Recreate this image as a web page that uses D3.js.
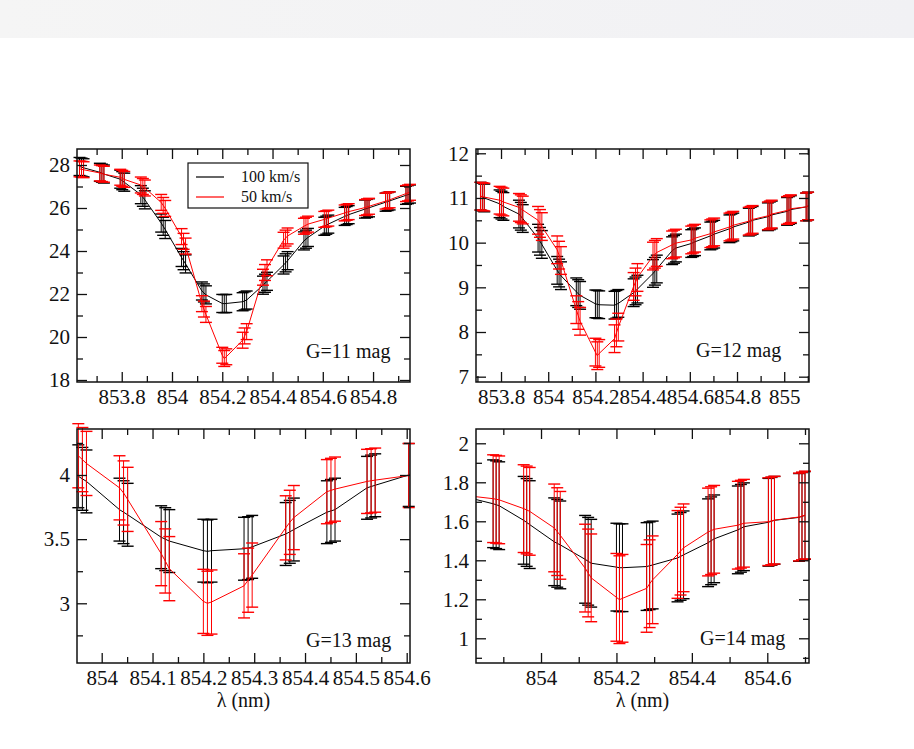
<!DOCTYPE html>
<html>
<head>
<meta charset="utf-8">
<script src="https://cdn.jsdelivr.net/npm/d3@7"></script>
<style>
  html, body { margin: 0; padding: 0; background: #fff; }
  svg { display: block; }
  text { font-family: "Liberation Serif", "Times New Roman", serif; fill: #111; }
</style>
</head>
<body>
<svg id="fig" width="914" height="749"></svg>
<script>
// ---------------------------------------------------------------------------
// Data: Ca II 854.2 nm line profiles, two rotation speeds, four magnitudes.
// Each error-bar cluster holds three neighbouring samples (subStep apart);
// the wavelength arrays give the first sample of every cluster.
// ---------------------------------------------------------------------------
const seriesNames  = ["100 km/s", "50 km/s"];
const seriesColors = ["#000000", "#ff0000"];
const subStep = 0.008; // nm between samples inside one cluster

// G = 11 mag
const wavesG11 = [853.632, 853.713, 853.794, 853.876, 853.957, 854.038, 854.119, 854.200,
                  854.281, 854.362, 854.444, 854.525, 854.606, 854.687, 854.768, 854.850, 854.931];
const fluxG11v100 = [
  [27.93, 27.90, 27.87], [27.66, 27.62, 27.58], [27.34, 27.27, 27.20], [26.62, 26.50, 26.38],
  [25.30, 25.15, 25.00], [23.70, 23.55, 23.40], [22.14, 22.05, 21.96], [21.56, 21.55, 21.56],
  [21.64, 21.68, 21.72], [22.41, 22.50, 22.59], [23.35, 23.45, 23.55], [24.47, 24.55, 24.63],
  [25.15, 25.20, 25.25], [25.61, 25.65, 25.69], [25.95, 25.98, 26.01], [26.27, 26.30, 26.33],
  [26.59, 26.62, 26.65]];
const fluxG11v50 = [
  [27.82, 27.80, 27.78], [27.63, 27.60, 27.57], [27.43, 27.38, 27.33], [27.07, 27.00, 26.93],
  [26.26, 26.12, 25.98], [24.67, 24.45, 24.23], [21.55, 21.30, 21.05], [19.15, 19.00, 19.08],
  [19.85, 20.05, 20.25], [22.78, 23.00, 23.22], [24.50, 24.60, 24.70], [25.15, 25.20, 25.25],
  [25.47, 25.50, 25.53], [25.77, 25.80, 25.83], [26.02, 26.05, 26.08], [26.32, 26.35, 26.38],
  [26.67, 26.70, 26.73]];
const sigmaG11 = [0.42, 0.37];

// G = 12 mag
const wavesG12 = [853.713, 853.794, 853.876, 853.957, 854.038, 854.119, 854.200, 854.281, 854.362,
                  854.444, 854.525, 854.606, 854.687, 854.768, 854.850, 854.931, 855.012, 855.093];
const fluxG12v100 = [
  [11.04, 11.02, 11.00], [10.87, 10.84, 10.81], [10.64, 10.59, 10.54], [10.10, 10.03, 9.96],
  [9.38, 9.32, 9.26], [8.90, 8.86, 8.82], [8.63, 8.62, 8.61], [8.60, 8.62, 8.64],
  [8.88, 8.92, 8.96], [9.31, 9.36, 9.41], [9.82, 9.85, 9.88], [9.98, 10.00, 10.02],
  [10.15, 10.17, 10.19], [10.31, 10.33, 10.35], [10.46, 10.48, 10.50], [10.58, 10.60, 10.62],
  [10.70, 10.72, 10.74], [10.80, 10.82, 10.84]];
const fluxG12v50 = [
  [11.04, 11.03, 11.02], [10.95, 10.93, 10.91], [10.79, 10.76, 10.73], [10.50, 10.43, 10.36],
  [9.84, 9.72, 9.60], [8.50, 8.37, 8.24], [7.55, 7.47, 7.52], [7.85, 7.98, 8.11],
  [9.02, 9.12, 9.22], [9.70, 9.74, 9.78], [9.95, 9.97, 9.99], [10.06, 10.08, 10.10],
  [10.20, 10.22, 10.24], [10.35, 10.37, 10.39], [10.48, 10.50, 10.52], [10.60, 10.62, 10.64],
  [10.72, 10.74, 10.76], [10.80, 10.82, 10.84]];
const sigmaG12 = [0.31, 0.31];

// G = 13 mag
const wavesG13 = [853.954, 854.035, 854.117, 854.200, 854.280, 854.362, 854.443, 854.522, 854.604];
const fluxG13v100 = [
  [3.99, 3.97, 3.95], [3.73, 3.71, 3.69], [3.515, 3.50, 3.485], [3.41, 3.405, 3.41],
  [3.425, 3.43, 3.44], [3.54, 3.557, 3.575], [3.71, 3.72, 3.73], [3.90, 3.91, 3.92],
  [4.00, 4.005, 4.01]];
const fluxG13v50 = [
  [4.15, 4.12, 4.09], [3.90, 3.86, 3.81], [3.387, 3.33, 3.27], [3.015, 3.00, 3.01],
  [3.136, 3.18, 3.22], [3.588, 3.631, 3.668], [3.87, 3.88, 3.89], [3.95, 3.955, 3.96],
  [3.996, 4.00, 4.005]];
const sigmaG13 = [0.245, 0.25];

// G = 14 mag
const wavesG14 = [853.794, 853.873, 853.954, 854.035, 854.117, 854.200, 854.280, 854.362,
                  854.443, 854.522, 854.603, 854.684];
const fluxG14v100 = [
  [1.73, 1.725, 1.72], [1.69, 1.685, 1.68], [1.605, 1.594, 1.583], [1.495, 1.487, 1.479],
  [1.405, 1.395, 1.385], [1.365, 1.362, 1.362], [1.368, 1.372, 1.376], [1.412, 1.42, 1.428],
  [1.49, 1.50, 1.51], [1.556, 1.564, 1.572], [1.595, 1.60, 1.605], [1.62, 1.625, 1.63]];
const fluxG14v50 = [
  [1.735, 1.732, 1.73], [1.716, 1.713, 1.71], [1.665, 1.658, 1.651], [1.566, 1.547, 1.528],
  [1.36, 1.335, 1.31], [1.21, 1.198, 1.205], [1.256, 1.28, 1.30], [1.43, 1.447, 1.464],
  [1.545, 1.552, 1.559], [1.58, 1.585, 1.59], [1.598, 1.602, 1.606], [1.622, 1.627, 1.632]];
const sigmaG14 = [0.225, 0.225];

// Tick labels
const xTicksG11 = [853.8, 854, 854.2, 854.4, 854.6, 854.8];
const xTicksG12 = [853.8, 854, 854.2, 854.4, 854.6, 854.8, 855];
const xTicksG13 = [854, 854.1, 854.2, 854.3, 854.4, 854.5, 854.6];
const xTicksG14 = [854, 854.2, 854.4, 854.6];
const yTicksG11 = [18, 20, 22, 24, 26, 28];
const yTicksG12 = [7, 8, 9, 10, 11, 12];
const yTicksG13 = [3, 3.5, 4];
const yTicksG14 = [1, 1.2, 1.4, 1.6, 1.8, 2];
const panelLabels = ["G=11 mag", "G=12 mag", "G=13 mag", "G=14 mag"];
const xTitle = "\u03bb (nm)";

// ---------------------------------------------------------------------------
// Layout
// ---------------------------------------------------------------------------
const svg = d3.select("#fig");
const defs = svg.append("defs");

// pale strip across the top of the page
const grad = defs.append("linearGradient")
  .attr("id", "topBand").attr("x1", "0%").attr("x2", "100%");
grad.append("stop").attr("offset", "0%").attr("stop-color", "#f5f5f5");
grad.append("stop").attr("offset", "100%").attr("stop-color", "#f1f1f4");
svg.append("rect").attr("x", 0).attr("y", 0).attr("width", 914).attr("height", 38)
  .attr("fill", "url(#topBand)");

const panels = [
  { key: "g11", waves: wavesG11, flux: [fluxG11v100, fluxG11v50], sigma: sigmaG11,
    xDomain: [853.622, 854.947], yDomain: [17.907, 28.744],
    xTicks: xTicksG11, xMinorStep: 0.1, yTicks: yTicksG11, yMinorStep: 1,
    box: { x0: 77, x1: 410, y0: 149, y1: 382 }, label: panelLabels[0], labelAt: [306, 358],
    legend: true, title: false },
  { key: "g12", waves: wavesG12, flux: [fluxG12v100, fluxG12v50], sigma: sigmaG12,
    xDomain: [853.694, 855.105], yDomain: [6.881, 12.096],
    xTicks: xTicksG12, xMinorStep: 0.1, yTicks: yTicksG12, yMinorStep: 0.5,
    box: { x0: 476, x1: 809, y0: 149, y1: 382 }, label: panelLabels[1], labelAt: [696, 357],
    legend: false, title: false },
  { key: "g13", waves: wavesG13, flux: [fluxG13v100, fluxG13v50], sigma: sigmaG13,
    xDomain: [853.9514, 854.6065], yDomain: [2.5346, 4.3585],
    xTicks: xTicksG13, xMinorStep: 0.05, yTicks: yTicksG13, yMinorStep: 0.25,
    box: { x0: 77, x1: 410, y0: 429, y1: 663 }, label: panelLabels[2], labelAt: [306, 647],
    legend: false, title: true },
  { key: "g14", waves: wavesG14, flux: [fluxG14v100, fluxG14v50], sigma: sigmaG14,
    xDomain: [853.8276, 854.7106], yDomain: [0.8733, 2.0733],
    xTicks: xTicksG14, xMinorStep: 0.1, yTicks: yTicksG14, yMinorStep: 0.1,
    box: { x0: 476, x1: 809, y0: 429, y1: 663 }, label: panelLabels[3], labelAt: [700, 645],
    legend: false, title: true }
];

const fmt = d => String(+d.toFixed(3));
const majorLen = 10, minorLen = 6, capHalf = 6;
const fontStack = '"Liberation Serif", "Times New Roman", serif';

function minorValues(domain, step, majors) {
  const lo = Math.ceil(domain[0] / step - 1e-6), hi = Math.floor(domain[1] / step + 1e-6);
  return d3.range(lo, hi + 1).map(k => +(k * step).toFixed(4))
    .filter(v => !majors.some(m => Math.abs(m - v) < 1e-6));
}

function drawPanel(p) {
  const b = p.box;
  const x = d3.scaleLinear().domain(p.xDomain).range([b.x0, b.x1]);
  const y = d3.scaleLinear().domain(p.yDomain).range([b.y1, b.y0]);
  const g = svg.append("g").attr("class", "panel-" + p.key);

  defs.append("clipPath").attr("id", "clip-" + p.key)
    .append("rect").attr("x", b.x0).attr("y", b.y0)
    .attr("width", b.x1 - b.x0).attr("height", b.y1 - b.y0);

  // samples of both series
  const series = p.flux.map((groups, s) => {
    const pts = [];
    groups.forEach((vals, i) => vals.forEach((v, j) => {
      pts.push({ x: p.waves[i] + j * subStep, y: v, s: p.sigma[s] });
    }));
    return pts;
  });

  const lineGen = d3.line().x(d => x(d.x)).y(d => y(d.y));
  const inX = d => d.x >= p.xDomain[0] - 1e-9 && d.x <= p.xDomain[1] + 1e-9;

  series.forEach((pts, s) => {
    const col = seriesColors[s];
    const bars = g.append("g").attr("stroke", col).attr("fill", "none");
    const visible = pts.filter(inX);
    bars.selectAll("line.err").data(visible).join("line").attr("class", "err")
      .attr("x1", d => x(d.x)).attr("x2", d => x(d.x))
      .attr("y1", d => y(d.y - d.s)).attr("y2", d => y(d.y + d.s))
      .attr("stroke-width", 1);
    bars.selectAll("line.capHi").data(visible).join("line").attr("class", "capHi")
      .attr("x1", d => x(d.x) - capHalf).attr("x2", d => x(d.x) + capHalf)
      .attr("y1", d => y(d.y + d.s)).attr("y2", d => y(d.y + d.s))
      .attr("stroke-width", 1.4);
    bars.selectAll("line.capLo").data(visible).join("line").attr("class", "capLo")
      .attr("x1", d => x(d.x) - capHalf).attr("x2", d => x(d.x) + capHalf)
      .attr("y1", d => y(d.y - d.s)).attr("y2", d => y(d.y - d.s))
      .attr("stroke-width", 1.4);
    g.append("path").datum(pts)
      .attr("clip-path", "url(#clip-" + p.key + ")")
      .attr("fill", "none").attr("stroke", col).attr("stroke-width", 1)
      .attr("stroke-linejoin", "round")
      .attr("d", lineGen);
  });

  // frame
  g.append("rect").attr("x", b.x0).attr("y", b.y0)
    .attr("width", b.x1 - b.x0).attr("height", b.y1 - b.y0)
    .attr("fill", "none").attr("stroke", "#111").attr("stroke-width", 1.5);

  // inward ticks on all four sides, labels on bottom and left only
  const xMinor = minorValues(p.xDomain, p.xMinorStep, p.xTicks);
  const yMinor = minorValues(p.yDomain, p.yMinorStep, p.yTicks);
  const sides = [
    { ax: d3.axisBottom(x), t: `translate(0,${b.y1})`, major: p.xTicks, minor: xMinor, labels: true },
    { ax: d3.axisTop(x),    t: `translate(0,${b.y0})`, major: p.xTicks, minor: xMinor, labels: false },
    { ax: d3.axisLeft(y),   t: `translate(${b.x0},0)`, major: p.yTicks, minor: yMinor, labels: true },
    { ax: d3.axisRight(y),  t: `translate(${b.x1},0)`, major: p.yTicks, minor: yMinor, labels: false }
  ];
  sides.forEach(sd => {
    const gm = g.append("g").attr("transform", sd.t)
      .call(sd.ax.tickValues(sd.minor).tickSize(-minorLen).tickFormat(""));
    gm.select(".domain").remove();
    const gM = g.append("g").attr("transform", sd.t)
      .call(sd.ax.tickValues(sd.major).tickSize(-majorLen).tickPadding(7)
        .tickFormat(sd.labels ? fmt : ""));
    gM.select(".domain").remove();
    [gm, gM].forEach(ga => {
      ga.attr("font-family", fontStack).attr("font-size", 21);
      ga.selectAll(".tick line").attr("stroke", "#111").attr("stroke-width", 1.3);
      ga.selectAll(".tick text").attr("fill", "#111");
    });
  });

  // magnitude tag
  g.append("text").attr("x", p.labelAt[0]).attr("y", p.labelAt[1])
    .style("font-size", "20px").text(p.label);

  if (p.title) {
    g.append("text").attr("x", (b.x0 + b.x1) / 2).attr("y", b.y1 + 44)
      .attr("text-anchor", "middle").style("font-size", "20px").text(xTitle);
  }

  if (p.legend) {
    const lg = g.append("g").attr("transform", "translate(188,163)");
    lg.append("rect").attr("width", 120).attr("height", 45)
      .attr("fill", "#fff").attr("stroke", "#111").attr("stroke-width", 1.2);
    seriesNames.forEach((name, i) => {
      lg.append("line").attr("x1", 8).attr("x2", 36)
        .attr("y1", 14 + i * 20).attr("y2", 14 + i * 20)
        .attr("stroke", seriesColors[i]).attr("stroke-width", 1.2);
      lg.append("text").attr("x", 53).attr("y", 19 + i * 20)
        .style("font-size", "16px").text(name);
    });
  }
}

panels.forEach(drawPanel);
</script>
</body>
</html>
